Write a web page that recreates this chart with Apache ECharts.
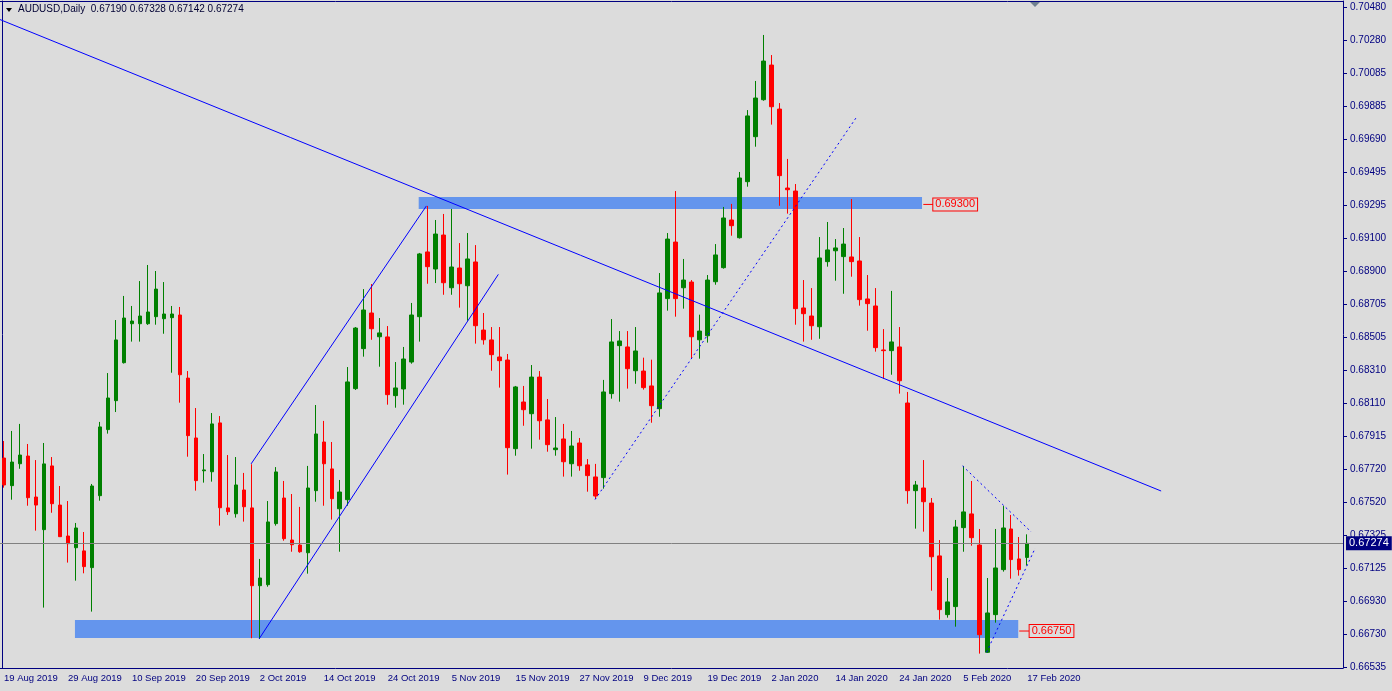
<!DOCTYPE html>
<html>
<head>
<meta charset="utf-8">
<style>html,body{margin:0;padding:0;background:#dcdcdc;}#c{width:1392px;height:691px;}</style>
<script src="https://cdn.jsdelivr.net/npm/echarts@6/dist/echarts.min.js"></script>
</head>
<body>
<div id="c"></div>
<script>
// ---- Data (AUDUSD daily) ----
const openP = [0.67784,0.67619,0.67750,0.67796,0.67551,0.67356,0.67737,0.67503,0.67318,0.67248,
0.67229,0.67129,0.67559,0.67954,0.68127,0.68354,0.68587,0.68587,0.68587,0.68629,
0.68617,0.68623,0.68639,0.68262,0.67904,0.67708,0.67702,0.67994,0.67486,0.67451,
0.67593,0.67486,0.67021,0.67027,0.67392,0.67545,0.67294,0.67264,0.67218,0.67589,
0.67880,0.67719,0.67481,0.67535,0.68199,0.68438,0.68651,0.68509,0.68508,0.68157,
0.68197,0.68358,0.68629,0.69016,0.68914,0.69117,0.68802,0.68920,0.68814,0.68956,
0.68549,0.68490,0.68388,0.68370,0.67840,0.68119,0.68049,0.68268,0.68012,0.67834,
0.67898,0.67750,0.67874,0.67743,0.67671,0.67667,0.68169,0.68456,0.68448,0.68306,
0.68304,0.68215,0.68079,0.68737,0.69075,0.68802,0.68836,0.68491,0.68515,0.68838,
0.68922,0.69207,0.69101,0.69436,0.69705,0.69926,0.70133,0.69870,0.69398,0.69380,
0.68681,0.68633,0.68569,0.68958,0.69023,0.68988,0.68986,0.68962,0.68735,0.68693,
0.68430,0.68426,0.68448,0.68113,0.67589,0.67605,0.67515,0.67199,0.66848,0.66896,
0.67368,0.67450,0.67264,0.66623,0.66848,0.67117,0.67360,0.67181,0.67190];
const closeP = [0.67623,0.67760,0.67802,0.67547,0.67503,0.67749,0.67511,0.67314,0.67272,0.67366,
0.67135,0.67617,0.67970,0.68143,0.68490,0.68621,0.68603,0.68633,0.68657,0.68794,
0.68645,0.68645,0.68282,0.67918,0.67649,0.67713,0.67988,0.67487,0.67463,0.67623,
0.67493,0.67021,0.67067,0.67402,0.67701,0.67302,0.67266,0.67224,0.67605,0.67928,
0.67750,0.67541,0.67581,0.68239,0.68561,0.68669,0.68557,0.68532,0.68163,0.68203,
0.68376,0.68639,0.69004,0.68928,0.69123,0.68832,0.68926,0.68826,0.68974,0.68575,
0.68491,0.68402,0.68366,0.67846,0.68209,0.68073,0.68268,0.68007,0.67864,0.67844,
0.67762,0.67856,0.67738,0.67679,0.67557,0.68179,0.68478,0.68484,0.68318,0.68424,
0.68205,0.68097,0.68771,0.69093,0.68737,0.68848,0.68509,0.68543,0.68848,0.68998,
0.69219,0.69173,0.69458,0.69829,0.69936,0.70157,0.69884,0.69472,0.69388,0.68677,
0.68647,0.68575,0.68980,0.69028,0.69040,0.69063,0.68958,0.68731,0.68707,0.68444,
0.68426,0.68478,0.68246,0.67589,0.67623,0.67523,0.67194,0.66878,0.66924,0.67372,
0.67462,0.67308,0.66728,0.66858,0.67127,0.67366,0.67177,0.67117,0.67274];
const lowP = [0.67607,0.67535,0.67720,0.67499,0.67350,0.66890,0.67457,0.67312,0.67159,0.67051,
0.67095,0.66866,0.67529,0.67930,0.68059,0.68349,0.68480,0.68480,0.68580,0.68581,
0.68527,0.68294,0.68115,0.67792,0.67589,0.67637,0.67643,0.67380,0.67444,0.67428,
0.67404,0.66707,0.66703,0.67015,0.67380,0.67290,0.67224,0.67218,0.67093,0.67523,
0.67499,0.67416,0.67224,0.67499,0.68191,0.68390,0.68491,0.68330,0.68103,0.68085,
0.68103,0.68348,0.68480,0.68826,0.68830,0.68760,0.68760,0.68683,0.68605,0.68468,
0.68462,0.68306,0.68205,0.67685,0.67798,0.67977,0.67840,0.67894,0.67822,0.67798,
0.67673,0.67673,0.67708,0.67583,0.67539,0.67601,0.68139,0.68121,0.68199,0.68228,
0.68193,0.67995,0.68031,0.68665,0.68629,0.68677,0.68378,0.68378,0.68474,0.68820,
0.68916,0.69113,0.69096,0.69406,0.69645,0.69920,0.69777,0.69292,0.69245,0.68581,
0.68480,0.68491,0.68497,0.68928,0.68844,0.68766,0.68868,0.68695,0.68545,0.68420,
0.68258,0.68282,0.68169,0.67511,0.67362,0.67344,0.66991,0.66818,0.66830,0.66776,
0.67224,0.67260,0.66615,0.66619,0.66800,0.67105,0.67063,0.67081,0.67142];
const highP = [0.67886,0.67946,0.67988,0.67868,0.67772,0.67874,0.67790,0.67617,0.67527,0.67396,
0.67342,0.67629,0.68000,0.68292,0.68609,0.68753,0.68693,0.68842,0.68938,0.68902,
0.68836,0.68693,0.68687,0.68304,0.68083,0.67808,0.68053,0.68035,0.67802,0.67790,
0.67695,0.67747,0.67181,0.67527,0.67730,0.67647,0.67569,0.67492,0.67737,0.68101,
0.68006,0.67880,0.67653,0.68328,0.68567,0.68794,0.68824,0.68621,0.68573,0.68358,
0.68448,0.68711,0.69010,0.69291,0.69207,0.69243,0.69273,0.69069,0.69129,0.69057,
0.68651,0.68567,0.68567,0.68406,0.68215,0.68215,0.68340,0.68304,0.68137,0.68029,
0.67988,0.67946,0.67904,0.67778,0.67749,0.68251,0.68615,0.68543,0.68543,0.68567,
0.68384,0.68372,0.68890,0.69129,0.69380,0.68974,0.68848,0.68641,0.68878,0.69063,
0.69285,0.69303,0.69494,0.69864,0.70038,0.70313,0.70193,0.69906,0.69572,0.69422,
0.68848,0.68800,0.69105,0.69195,0.69093,0.69159,0.69332,0.69105,0.68878,0.68800,
0.68555,0.68783,0.68567,0.68179,0.67647,0.67772,0.67545,0.67294,0.67067,0.67414,
0.67737,0.67647,0.67360,0.67067,0.67360,0.67497,0.67444,0.67312,0.67328];

// right price scale tick labels
const priceTicks = [0.70480,0.70280,0.70085,0.69885,0.69690,0.69495,0.69295,0.69100,0.68900,0.68705,
0.68505,0.68310,0.68110,0.67915,0.67720,0.67520,0.67325,0.67125,0.66930,0.66730,0.66535];

// hand drawn objects: [barIndex, price] endpoints
const trendMain   = [[-0.5, 0.70405], [144.75, 0.67587]];
const channelUp   = [[30.91, 0.67749], [52.84, 0.69291]];
const channelLow  = [[31.91, 0.66703], [61.84, 0.68882]];
const dottedRise  = [[73.94, 0.67536], [106.75, 0.69829]];
const wedgeTop    = [[119.91, 0.67737], [128.5, 0.67342]];
const wedgeBottom = [[122.91, 0.66623], [129.0, 0.67246]];
const zoneHigh = {x: [51.875, 114.84], y: [0.69344, 0.69273], level: 0.69300, labelX: [115.0, 116.25]};
const zoneLow  = {x: [8.875, 126.875], y: [0.66816, 0.66708], level: 0.66750, labelX: [127.0, 128.3]};
const lastPrice = 0.67274;
const titleText = 'AUDUSD,Daily  0.67190 0.67328 0.67142 0.67274';

// trading-day categories (weekdays, broker closed 25 Dec and 1 Jan)
const NCAT = 168;
const months = ['Jan','Feb','Mar','Apr','May','Jun','Jul','Aug','Sep','Oct','Nov','Dec'];
const categories = [];
(function(){
  const d = new Date(Date.UTC(2019,7,19));
  while (categories.length < NCAT) {
    const wd = d.getUTCDay(), m = d.getUTCMonth(), day = d.getUTCDate();
    const hol = (m === 11 && day === 25) || (m === 0 && day === 1);
    if (wd !== 0 && wd !== 6 && !hol) categories.push(day + ' ' + months[m] + ' ' + d.getUTCFullYear());
    d.setUTCDate(d.getUTCDate() + 1);
  }
})();
const lastIndex = openP.length - 1;
const showLab = (i) => i % 8 === 0 && i <= lastIndex;

const NAVY = '#000080';
const chart = echarts.init(document.getElementById('c'), null, {renderer: 'canvas'});

function trend(data, dashed) {
  return {
    type: 'line', xAxisIndex: 1, yAxisIndex: 0, data: data, symbol: 'none', silent: true, z: 4,
    lineStyle: {color: '#0000ff', width: 1, type: dashed ? [2, 3] : 'solid'}
  };
}
function levelLabel(z) {
  return {
    type: 'line', xAxisIndex: 1, yAxisIndex: 0, symbol: 'none', silent: true, z: 4,
    data: [[z.labelX[0], z.level], [z.labelX[1], z.level]],
    lineStyle: {color: '#ff0000', width: 1},
    endLabel: {
      show: true, formatter: z.level.toFixed(5), color: '#ff0000', fontSize: 11,
      fontFamily: 'Liberation Sans', borderColor: '#ff0000', borderWidth: 1,
      padding: [1, 2, 0, 2], backgroundColor: '#dcdcdc', distance: 0
    }
  };
}

const yMin = 0.66529, yMax = 0.70516;
const option = {
  backgroundColor: '#dcdcdc',
  animation: false,
  textStyle: {fontFamily: 'Liberation Sans'},
  title: {
    text: titleText, left: 18, top: 4, padding: 0,
    textStyle: {fontSize: 10, fontWeight: 'normal', color: '#000033', fontFamily: 'Liberation Sans'}
  },
  graphic: [
    {type: 'polygon', shape: {points: [[6, 8], [12, 8], [9, 12]]}, style: {fill: '#000000'}},
    {type: 'polygon', shape: {points: [[1030, 2], [1040, 2], [1035, 7]]}, style: {fill: '#708090'}}
  ],
  grid: {left: 0, right: 49, top: 1, bottom: 23},
  xAxis: [
    {
      type: 'category', data: categories, boundaryGap: true,
      axisLine: {lineStyle: {color: NAVY, width: 1}},
      axisTick: {alignWithLabel: true, interval: showLab, length: 4, lineStyle: {color: NAVY}},
      axisLabel: {interval: showLab, align: 'left', margin: 5, color: NAVY, fontSize: 9.5, fontFamily: 'Liberation Sans'},
      splitLine: {show: false}
    },
    {
      type: 'value', min: -0.5, max: NCAT - 0.5, position: 'top',
      axisLine: {show: true, onZero: false, lineStyle: {color: NAVY}},
      axisTick: {show: false}, axisLabel: {show: false}, splitLine: {show: false}
    }
  ],
  yAxis: [
    {
      type: 'value', position: 'right', min: yMin, max: yMax,
      axisLine: {show: true, onZero: false, lineStyle: {color: NAVY}},
      axisTick: {show: true, length: 4, customValues: priceTicks, lineStyle: {color: NAVY}},
      axisLabel: {customValues: priceTicks, formatter: (v) => v.toFixed(5), color: NAVY, fontSize: 10, margin: 7, fontFamily: 'Liberation Sans'},
      splitLine: {show: false}
    },
    {
      type: 'value', position: 'left', min: yMin, max: yMax, offset: -2,
      axisLine: {show: true, onZero: false, lineStyle: {color: NAVY}},
      axisTick: {show: false}, axisLabel: {show: false}, splitLine: {show: false}
    }
  ],
  series: [
    {
      type: 'line', xAxisIndex: 1, yAxisIndex: 0, data: [], silent: true, z: 1,
      markArea: {
        silent: true,
        itemStyle: {color: '#6495ed', opacity: 1},
        data: [
          [{coord: [zoneHigh.x[0], zoneHigh.y[0]]}, {coord: [zoneHigh.x[1], zoneHigh.y[1]]}],
          [{coord: [zoneLow.x[0], zoneLow.y[0]]}, {coord: [zoneLow.x[1], zoneLow.y[1]]}]
        ]
      },
      markLine: {
        silent: true, symbol: ['none', 'none'], precision: 5,
        data: [{yAxis: lastPrice}],
        lineStyle: {color: '#808080', type: 'solid', width: 1},
        label: {
          position: 'end', formatter: lastPrice.toFixed(5), backgroundColor: NAVY, color: '#ffffff',
          fontSize: 11, padding: [2, 3, 1, 3], distance: 3, fontFamily: 'Liberation Sans'
        }
      }
    },
    {
      type: 'candlestick', name: 'AUDUSD', xAxisIndex: 0, yAxisIndex: 0, z: 3,
      barWidth: 4,
      data: openP.map((o, i) => [o, closeP[i], lowP[i], highP[i]]),
      itemStyle: {color: '#008000', color0: '#ff0000', borderColor: '#008000', borderColor0: '#ff0000', borderWidth: 1}
    },
    trend(trendMain, false),
    trend(channelUp, false),
    trend(channelLow, false),
    trend(dottedRise, true),
    trend(wedgeTop, true),
    trend(wedgeBottom, true),
    levelLabel(zoneHigh),
    levelLabel(zoneLow)
  ]
};
chart.setOption(option);
</script>
</body>
</html>
